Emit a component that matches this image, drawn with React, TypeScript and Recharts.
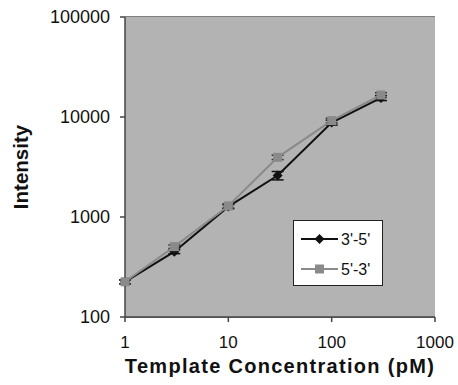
import React from 'react';
import { LineChart, Line, XAxis, YAxis, CartesianGrid, ErrorBar, ReferenceArea } from 'recharts';

const concentrations = [1, 3, 10, 30, 100, 300];
const series35 = [225, 450, 1270, 2600, 8800, 15500];
const series53 = [225, 505, 1290, 3950, 9200, 16600];
const err35 = [10, 20, 60, 250, 500, 900];
const err53 = [10, 20, 60, 200, 500, 900];
const xTicks = [1, 10, 100, 1000];
const yTicks = [100, 1000, 10000, 100000];

const data = concentrations.map((c, i) => ({
  conc: c,
  a: series35[i],
  b: series53[i],
  ea: err35[i],
  eb: err53[i],
}));

const font = 'Liberation Sans, Arial, sans-serif';

const Diamond = (props: any) => {
  const { cx, cy } = props;
  if (cx == null || cy == null) return null;
  return <path d={`M${cx},${cy - 5}L${cx + 5},${cy}L${cx},${cy + 5}L${cx - 5},${cy}Z`} fill="#111" />;
};

const Square = (props: any) => {
  const { cx, cy } = props;
  if (cx == null || cy == null) return null;
  return <rect x={cx - 4.5} y={cy - 4.5} width={9} height={9} fill="#8a8a8a" />;
};

// legend drawn as an overlay, recharts 3 won't render plain svg children
const LegendBox = () => (
  <svg width={458} height={385} style={{ position: 'absolute', left: 0, top: 0, pointerEvents: 'none' }}>
    <g fontFamily={font} fontSize={16}>
      <rect x={293.5} y={220.5} width={89} height={65} fill="#fff" stroke="#222" strokeWidth={1} />
      <line x1={301} y1={239} x2={338} y2={239} stroke="#111" strokeWidth={2} />
      <path d="M319.5,234L324.5,239L319.5,244L314.5,239Z" fill="#111" />
      <text x={341} y={245} fill="#111">3'-5'</text>
      <line x1={301} y1={269} x2={338} y2={269} stroke="#8a8a8a" strokeWidth={2} />
      <rect x={315} y={264.5} width={9} height={9} fill="#8a8a8a" />
      <text x={341} y={275} fill="#111">5'-3'</text>
    </g>
  </svg>
);

const App: React.FC = () => {
  return (
    <div style={{ position: 'absolute', left: 0, top: 0, width: 458, height: 385, background: '#fff' }}>
      <LineChart width={458} height={385} data={data} margin={{ top: 17, right: 23, bottom: 0, left: 0 }}>
        <ReferenceArea x1={1} x2={1000} y1={100} y2={100000} fill="#b3b3b3" fillOpacity={1} stroke="none" ifOverflow="visible" />
        <CartesianGrid vertical={false} stroke="#555" strokeWidth={1.5} horizontalValues={yTicks} />
        <XAxis
          dataKey="conc"
          type="number"
          scale="log"
          domain={[1, 1000]}
          ticks={xTicks}
          height={68}
          tickSize={5}
          tickMargin={14}
          stroke="#444"
          strokeWidth={1.5}
          tick={{ fill: '#111', fontSize: 17, fontFamily: font }}
          label={{ value: 'Template Concentration (pM)', position: 'center', dy: 15, fill: '#111', fontSize: 20, fontWeight: 'bold', fontFamily: font, letterSpacing: 1.3 }}
        />
        <YAxis
          type="number"
          scale="log"
          domain={[100, 100000]}
          ticks={yTicks}
          width={125}
          tickSize={5}
          tickMargin={10}
          stroke="#444"
          strokeWidth={1.5}
          allowDataOverflow
          tick={{ fill: '#111', fontSize: 18, fontFamily: font }}
          label={{ value: 'Intensity', angle: -90, position: 'center', dx: -42, fill: '#111', fontSize: 20.5, fontWeight: 'bold', fontFamily: font }}
        />
        <Line dataKey="a" stroke="#111" strokeWidth={2} dot={<Diamond />} isAnimationActive={false}>
          <ErrorBar dataKey="ea" width={6} stroke="#111" strokeWidth={1.5} />
        </Line>
        <Line dataKey="b" stroke="#8a8a8a" strokeWidth={2} dot={<Square />} isAnimationActive={false}>
          <ErrorBar dataKey="eb" width={6} stroke="#333" strokeWidth={1.5} />
        </Line>
      </LineChart>
      <LegendBox />
    </div>
  );
};

export default App;
